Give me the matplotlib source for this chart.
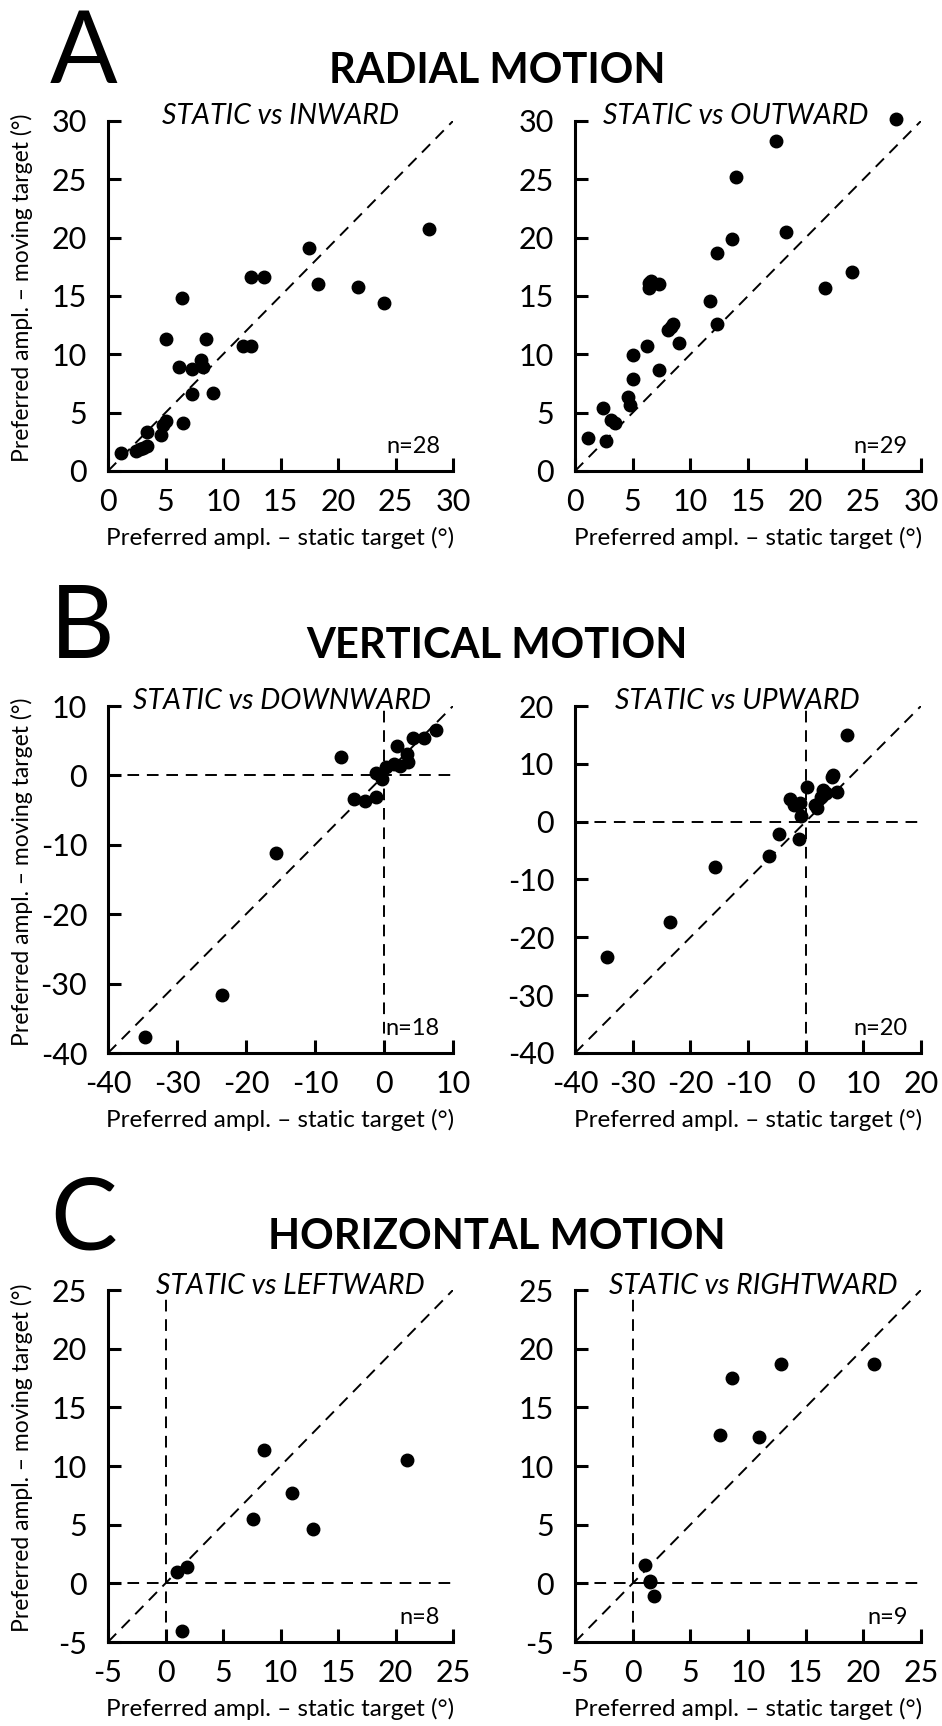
import matplotlib.pyplot as plt

plt.rcParams['font.family'] = ['Lato', 'DejaVu Sans']
plt.rcParams['axes.unicode_minus'] = False

# A: radial motion
inward_x = [1.15, 2.4, 2.8, 3.0, 3.35, 3.4, 4.65, 4.8, 5.0, 5.0, 6.4, 6.5, 6.2, 7.3, 7.3,
            8.1, 8.3, 8.5, 9.15, 11.7, 12.4, 12.4, 13.6, 17.5, 18.3, 21.7, 24.0, 27.9]
inward_y = [1.5, 1.7, 1.9, 2.0, 2.1, 3.3, 3.1, 3.9, 4.3, 11.35, 14.8, 4.1, 8.9, 8.7, 6.6,
            9.5, 8.9, 11.35, 6.65, 10.7, 10.7, 16.65, 16.65, 19.1, 16.0, 15.8, 14.4, 20.7]

outward_x = [1.15, 2.4, 2.7, 3.15, 3.45, 4.6, 4.8, 5.0, 5.0, 6.25, 6.45, 6.6, 6.45, 7.25, 7.25,
             8.1, 8.3, 8.5, 9.05, 11.7, 12.35, 12.35, 13.6, 14.0, 17.4, 18.3, 21.7, 24.0, 27.85]
outward_y = [2.8, 5.4, 2.55, 4.4, 4.1, 6.35, 5.65, 9.9, 7.85, 10.7, 16.1, 16.3, 15.7, 16.05, 8.65,
             12.1, 12.3, 12.6, 10.95, 14.6, 18.7, 12.6, 19.9, 25.2, 28.3, 20.5, 15.65, 17.05, 30.15]

# B: vertical motion
downward_x = [-34.7, -23.55, -15.7, -6.2, -4.4, -2.75, -1.1, -1.2, -0.3,
              0.3, 1.5, 2.3, 1.95, 3.5, 3.4, 4.25, 5.8, 7.5]
downward_y = [-37.75, -31.6, -11.25, 2.7, -3.45, -3.7, -3.1, 0.35, -0.45,
              1.25, 1.65, 1.4, 4.25, 1.9, 3.05, 5.4, 5.4, 6.6]

upward_x = [-34.4, -23.5, -15.7, -6.3, -4.7, -1.1, -0.8, -2.7, -2.1, -1.0,
            0.2, 1.6, 1.9, 2.6, 3.05, 3.6, 4.5, 4.8, 5.5, 7.1]
upward_y = [-23.4, -17.3, -7.9, -5.9, -2.2, -3.0, 1.0, 4.0, 2.8, 3.3,
            6.0, 2.8, 2.3, 4.35, 5.5, 5.0, 7.8, 8.1, 5.2, 15.0]

# C: horizontal motion
leftward_x = [1.04, 1.9, 1.41, 7.57, 8.57, 11.02, 12.83, 21.03]
leftward_y = [0.95, 1.37, -4.1, 5.47, 11.33, 7.69, 4.65, 10.48]

rightward_x = [1.03, 1.46, 1.5, 1.83, 7.55, 8.58, 10.99, 12.86, 20.93]
rightward_y = [1.59, 0.23, 0.1, -1.04, 12.61, 17.5, 12.46, 18.72, 18.72]

W, H = 942, 1726
fig = plt.figure(figsize=(W / 100, H / 100), dpi=100)

xlab = 'Preferred ampl. \u2013 static target (\u00b0)'
ylab = 'Preferred ampl. \u2013 moving target (\u00b0)'

# pixel bounds of the axes boxes
rows = [(121, 471), (706, 1053), (1290, 1642)]
cols = [(108, 453), (575, 921)]

panels = [
    (0, 0, inward_x, inward_y, (0, 30), (0, 30), 5, 'STATIC vs INWARD', 'n=28', False, 0.50),
    (0, 1, outward_x, outward_y, (0, 30), (0, 30), 5, 'STATIC vs OUTWARD', 'n=29', False, 0.465),
    (1, 0, downward_x, downward_y, (-40, 10), (-40, 10), 10, 'STATIC vs DOWNWARD', 'n=18', True, 0.505),
    (1, 1, upward_x, upward_y, (-40, 20), (-40, 20), 10, 'STATIC vs UPWARD', 'n=20', True, 0.469),
    (2, 0, leftward_x, leftward_y, (-5, 25), (-5, 25), 5, 'STATIC vs LEFTWARD', 'n=8', True, 0.527),
    (2, 1, rightward_x, rightward_y, (-5, 25), (-5, 25), 5, 'STATIC vs RIGHTWARD', 'n=9', True, 0.515),
]

for r, c, xs, ys, xl, yl, step, sub, ntxt, cross, subx in panels:
    top, bot = rows[r]
    left, right = cols[c]
    ax = fig.add_axes([left / W, 1 - bot / H, (right - left) / W, (bot - top) / H])
    ax.set_xlim(xl)
    ax.set_ylim(yl)
    ax.set_xticks(range(xl[0], xl[1] + 1, step))
    ax.set_yticks(range(yl[0], yl[1] + 1, step))
    for s in ['top', 'right']:
        ax.spines[s].set_visible(False)
    for s in ['left', 'bottom']:
        ax.spines[s].set_linewidth(2.2)
    ax.tick_params(direction='in', length=9.5, width=2.2, labelsize=22, colors='black')
    ax.tick_params(axis='y', pad=15)
    ax.tick_params(axis='x', pad=12)

    lo, hi = xl[0], min(xl[1], yl[1])
    ax.plot([lo, hi], [lo, hi], color='black', lw=1.4, dashes=(6, 4))
    if cross:
        ax.plot(xl, [0, 0], color='black', lw=1.4, dashes=(6, 4))
        ax.plot([0, 0], yl, color='black', lw=1.4, dashes=(6, 4))
    ax.plot(xs, ys, 'o', color='black', ms=9, clip_on=False)

    ax.text(subx, 0.99, sub, transform=ax.transAxes, ha='center', va='baseline',
            fontsize=20.5, style='italic')
    ax.text(0.962, 0.051, ntxt, transform=ax.transAxes, ha='right', va='baseline', fontsize=17)

    cx = (left + right) / 2 / W
    fig.text(cx, 1 - 545 / H - (bot - 471) / H, xlab, ha='center', va='baseline', fontsize=17.5)
    cy = 1 - ((top + bot) / 2 - 8) / H
    if c == 0:
        fig.text(22 / W, cy, ylab, ha='center', va='center', rotation=90, fontsize=16.5)

titles = [('A', 'RADIAL MOTION', 83), ('B', 'VERTICAL MOTION', 658), ('C', 'HORIZONTAL MOTION', 1249)]
for letter, title, base in titles:
    fig.text(50 / W, 1 - base / H, letter, fontsize=72, va='baseline', ha='left')
    fig.text(497 / W, 1 - base / H, title, fontsize=30, fontweight='bold', va='baseline', ha='center')

fig.savefig('out.png', dpi=100)
